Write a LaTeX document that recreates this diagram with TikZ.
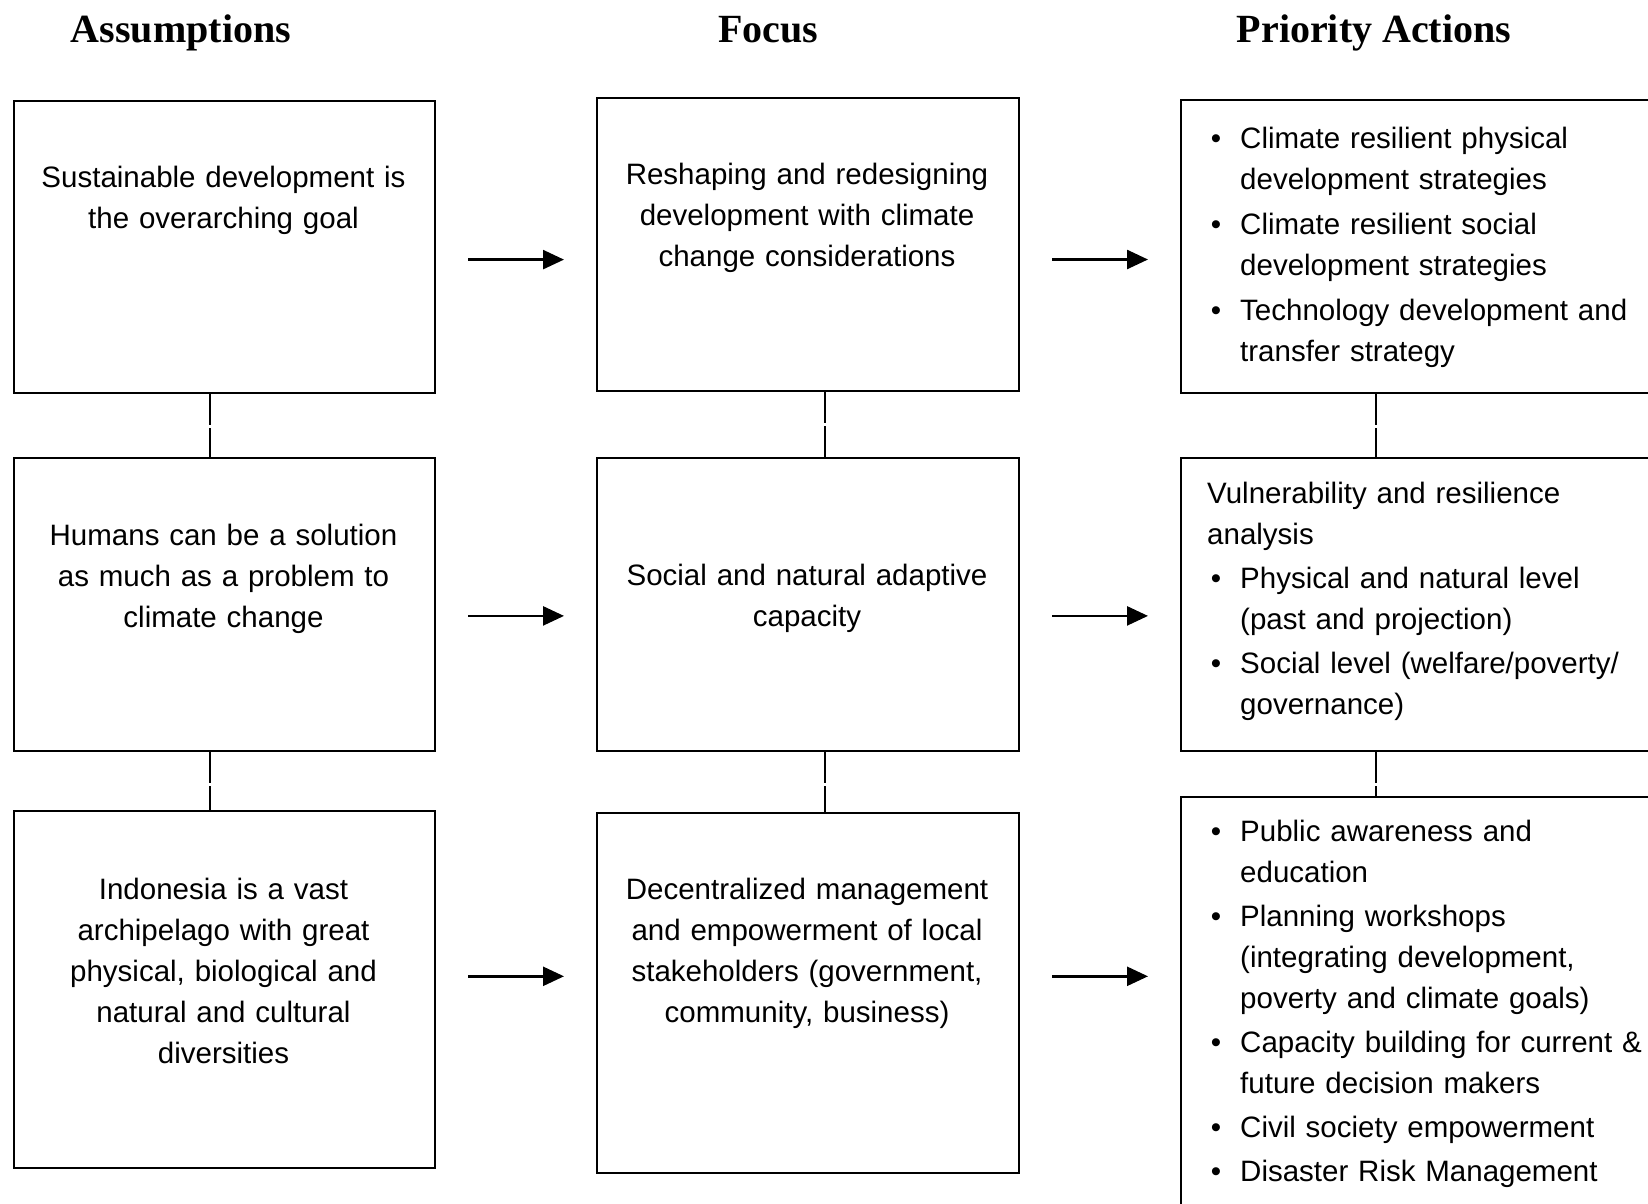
\documentclass[tikz,border=0pt]{standalone}
\usepackage{fontspec}
\setmainfont{Liberation Sans}
\newfontfamily\titlefont{Liberation Serif}
\usetikzlibrary{arrows.meta}
\newcommand\pbul{\leavevmode\llap{\textbullet\hspace{19pt}}}
\begin{document}
\begin{tikzpicture}[x=1pt,y=-1pt,
  box/.style={draw, line width=2pt, rectangle, inner sep=0pt, anchor=north west},
  txt/.style={inner sep=0pt, font=\fontsize{29.5}{41}\selectfont},
  ctxt/.style={txt, text width=400pt, align=center, anchor=base},
  ltxt/.style={txt, text width=440pt, align=left, anchor=base west},
  hdr/.style={inner sep=0pt, anchor=base, font=\titlefont\bfseries\fontsize{40}{48}\selectfont},
  arr/.style={line width=2.5pt, -{Triangle[length=21pt,width=19pt]}, shorten <=32pt, shorten >=32pt},
  link/.style={line width=2pt, dash pattern=on 31pt off 3pt}
]
\clip (0,0) rectangle (1648,1203);
\fill[white] (0,0) rectangle (1648,1203);

% headers
\node[hdr] (h1) at (181,42) {Assumptions};
\node[hdr] (h2) at (768,42) {Focus};
\node[hdr] (h3) at (1374,42) {Priority Actions};

% boxes
\node[box, minimum width=421pt, minimum height=292pt] (L1) at (13,100) {};
\node[box, minimum width=421pt, minimum height=293pt] (L2) at (13,457) {};
\node[box, minimum width=421pt, minimum height=357pt] (L3) at (13,810) {};
\node[box, minimum width=422pt, minimum height=293pt] (M1) at (596,97) {};
\node[box, minimum width=422pt, minimum height=293pt] (M2) at (596,457) {};
\node[box, minimum width=422pt, minimum height=360pt] (M3) at (596,812) {};
\node[box, minimum width=540pt, minimum height=293pt] (R1) at (1180,99) {};
\node[box, minimum width=540pt, minimum height=293pt] (R2) at (1180,457) {};
\node[box, minimum width=540pt, minimum height=460pt] (R3) at (1180,796) {};

% texts
\node[ctxt] (tL1) at (223.5,187) {Sustainable development is\\the overarching goal};
\node[ctxt] (tM1) at (807,184) {Reshaping and redesigning\\development with climate\\change considerations};
\node[ctxt] (tL2) at (223.5,545) {Humans can be a solution\\as much as a problem to\\climate change};
\node[ctxt] (tM2) at (807,585) {Social and natural adaptive\\capacity};
\node[ctxt] (tL3) at (223.5,899) {Indonesia is a vast\\archipelago with great\\physical, biological and\\natural and cultural\\diversities};
\node[ctxt] (tM3) at (807,899) {Decentralized management\\and empowerment of local\\stakeholders (government,\\community, business)};

\node[ltxt] (tR1) at (1207,148) {\leftskip=33pt\parskip=4pt
  \pbul Climate resilient physical\newline development strategies\par
  \pbul Climate resilient social\newline development strategies\par
  \pbul Technology development and\newline transfer strategy\par};
\node[ltxt] (tR2) at (1207,503) {\parskip=2pt
  Vulnerability and resilience\newline analysis\par
  \leftskip=33pt\parskip=3pt
  \pbul Physical and natural level\newline (past and projection)\par
  \pbul Social level (welfare/poverty/\newline governance)\par};
\node[ltxt] (tR3) at (1207,841) {\leftskip=33pt\parskip=3pt
  \pbul Public awareness and\newline education\par
  \pbul Planning workshops\newline (integrating development,\newline poverty and climate goals)\par
  \pbul Capacity building for current \&\newline future decision makers\par
  \pbul Civil society empowerment\par
  \pbul Disaster Risk Management\par};

% dashed links
\draw[link] ([xshift=-14.5pt]L1.south) -- ([xshift=-14.5pt]L2.north);
\draw[link] ([xshift=-14.5pt]L2.south) -- ([xshift=-14.5pt]L3.north);
\draw[link] ([xshift=17pt]M1.south) -- ([xshift=17pt]M2.north);
\draw[link] ([xshift=17pt]M2.south) -- ([xshift=17pt]M3.north);
\draw[link] ([xshift=-75pt]R1.south) -- ([xshift=-75pt]R2.north);
\draw[link] ([xshift=-75pt]R2.south) -- ([xshift=-75pt]R3.north);

% arrows
\draw[arr] ([yshift=-12.6pt]L1.east) -- ([yshift=-12.6pt]L1.east -| M1.west);
\draw[arr] ([yshift=-15pt]M1.east) -- ([yshift=-15pt]M1.east -| R1.west);
\draw[arr] ([yshift=-11.4pt]L2.east) -- ([yshift=-11.4pt]L2.east -| M2.west);
\draw[arr] ([yshift=-11.4pt]M2.east) -- ([yshift=-11.4pt]M2.east -| R2.west);
\draw[arr] ([yshift=13.2pt]L3.east) -- ([yshift=13.2pt]L3.east -| M3.west);
\draw[arr] ([yshift=16.7pt]M3.east) -- ([yshift=16.7pt]M3.east -| R3.west);
\end{tikzpicture}
\end{document}
